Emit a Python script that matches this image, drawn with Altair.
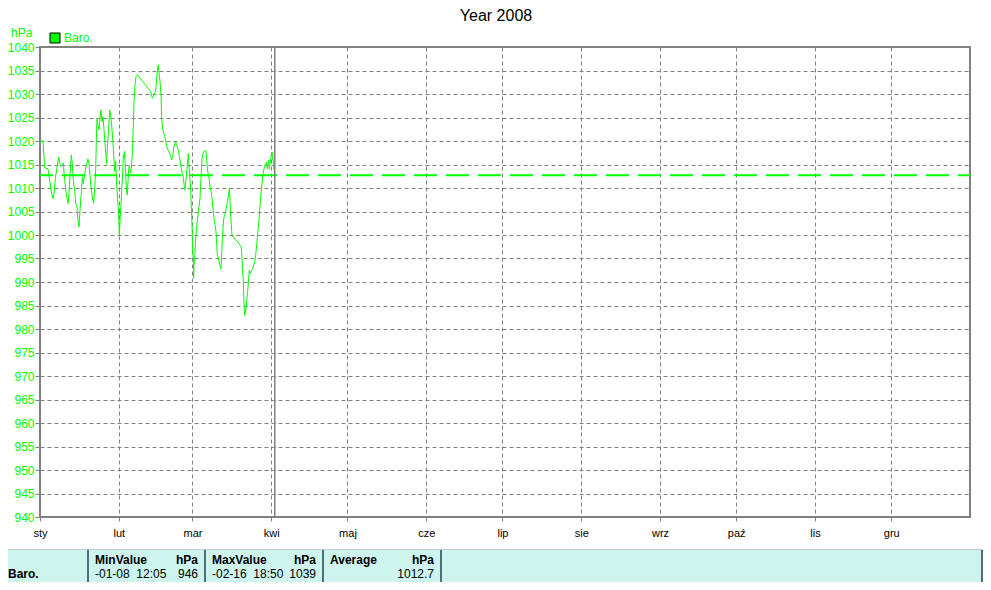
import altair as alt
import pandas as pd

# ---- data (day of year 2008, pressure hPa) ----
days = [0, 1.18, 1.57, 1.84, 3.15, 3.8, 4.46, 5.12, 5.51, 6.03, 6.82, 7.35, 7.74, 8.13, 8.66, 9.18, 9.71, 10.36,
        11.02, 11.41, 11.81, 12.33, 12.72, 13.12, 13.64, 14.04, 14.56, 14.95, 15.35, 15.74, 16.27, 16.66, 17.05,
        17.58, 18.23, 18.89, 19.28, 19.68, 20.07, 20.59, 21.12, 21.51, 21.91, 22.17, 22.43, 22.83,
        23.22, 23.61, 24.01, 24.4, 24.79, 25.19, 25.58, 25.98, 26.24, 26.5, 27.02, 27.42, 27.81, 28.2, 28.6,
        28.99, 29.39, 29.78, 30.17, 30.57, 30.96, 31.22, 31.48, 31.75, 32.01, 32.27, 32.53, 32.8, 33.06, 33.32,
        33.58, 33.84, 34.11, 34.37, 34.63, 34.9, 35.16, 35.42, 35.68, 35.94, 36.21, 36.47, 36.73, 36.99, 37.39,
        37.78, 38.3, 39.35, 40.4, 41.45, 42.5, 43.55, 44.21, 44.6, 45.13, 45.52, 45.92, 46.31, 46.57, 46.83,
        47.23, 47.62, 47.88, 48.28, 48.67, 49.06, 49.46, 49.85, 50.24, 50.64, 51.03, 51.42, 51.82, 52.21, 52.61,
        53.0, 53.39, 53.79, 54.18, 54.57, 54.84, 55.23, 55.62, 56.02, 56.41, 56.8, 57.06, 57.33, 57.59, 57.98,
        58.38, 58.64, 58.9, 59.16, 59.43, 59.69, 59.95, 60.08, 60.34, 60.47, 60.61, 60.87, 61.13, 61.39, 61.79,
        62.18, 62.57, 62.97, 63.23, 63.49, 63.75, 64.15, 64.54, 65.33, 65.59, 65.85, 66.12, 66.51, 66.9, 67.3,
        67.69, 68.08, 68.48, 68.87, 69.26, 69.53, 69.79, 70.18,
        70.44, 70.84, 71.23, 71.5, 71.76, 72.02, 72.28, 72.67, 73.07, 73.46, 73.86, 74.25, 74.51, 74.77, 75.04,
        75.3, 75.56, 76.61, 77.92, 78.58, 79.23, 79.5, 79.76, 80.02, 80.28, 80.54, 80.81, 81.07, 81.33, 81.59,
        81.86, 82.12, 82.38, 82.64, 82.91, 83.69, 84.48, 84.87, 85.27, 85.66, 86.06, 86.45, 86.84, 87.24, 87.63,
        88.02, 88.42, 88.81, 89.2, 89.47, 89.73, 89.99, 90.25, 90.52, 90.78, 91.04, 91.3, 91.57, 91.83, 92.09]

baro = [1020.0, 1020.0, 1016.6, 1014.3, 1014.1, 1011.6, 1009.2, 1007.7, 1008.8, 1012.0, 1014.8, 1016.6, 1015.5,
        1014.6, 1014.8, 1015.3, 1011.6, 1008.8, 1006.7, 1008.8, 1013.0, 1017.0, 1015.2, 1011.6, 1009.5, 1006.7,
        1006.0, 1003.1, 1001.7, 1005.2, 1009.2, 1012.3, 1010.9, 1013.0, 1014.8, 1016.2, 1015.2, 1012.7, 1010.2,
        1008.1, 1006.7, 1009.9, 1013.8, 1020.1, 1024.7, 1023.3,
        1022.4, 1024.9, 1026.6, 1024.1, 1025.2, 1022.4, 1019.5, 1016.7, 1015.1, 1018.5, 1022.7, 1026.6, 1025.2,
        1023.4, 1020.6, 1017.1, 1013.5, 1015.6, 1010.7, 1007.5, 1004.3, 1000.0, 1002.9, 1005.4, 1007.8, 1010.7,
        1013.2, 1017.1, 1016.3, 1017.8, 1014.2, 1011.4, 1009.3, 1008.5, 1011.4, 1013.9, 1014.9, 1013.9, 1013.2,
        1014.2, 1016.3, 1019.2, 1023.4, 1028.4, 1032.0, 1033.7, 1034.1, 1033.4, 1032.7, 1032.0, 1031.2, 1030.5,
        1029.1, 1029.5, 1030.2, 1030.5, 1033.4, 1035.5, 1036.2, 1034.4,
        1032.7, 1029.8, 1024.9, 1022.4, 1021.7, 1021.0, 1020.2, 1018.8, 1018.3, 1017.8, 1017.4, 1016.7, 1016.0,
        1016.3, 1018.5, 1019.5, 1019.9, 1019.2, 1018.5, 1017.8, 1016.7, 1015.6, 1013.9, 1013.2, 1012.1, 1010.3,
        1009.6, 1011.4, 1012.4, 1014.9, 1017.4, 1014.9, 1012.4, 1011.0, 1007.8, 1004.3, 1000.0, 996.5, 995.1,
        990.8, 993.7, 995.1, 997.9, 1000.0, 1002.5, 1004.3, 1006.1, 1007.8, 1010.7, 1013.5, 1016.3, 1017.4,
        1017.8, 1017.9, 1016.3, 1014.2, 1013.2, 1012.1, 1010.3, 1009.3, 1007.8, 1005.7, 1003.6, 1002.2, 1000.7,
        997.9, 995.8, 995.1,
        994.3, 993.5, 992.8, 995.7, 999.2, 1001.3, 1003.5, 1004.2, 1005.2, 1006.3, 1007.4, 1008.8, 1009.9, 1007.7,
        1004.2, 1002.1, 999.9, 999.2, 998.5, 997.9, 997.4, 995.0, 992.1, 990.0, 985.7, 982.9, 983.6, 984.3, 985.7,
        987.2, 988.9, 990.7, 992.5, 991.8, 992.1, 992.8, 994.3, 995.7, 997.8, 1000.3, 1002.4, 1005.2, 1008.1,
        1010.2, 1012.3, 1013.8, 1014.5, 1015.2, 1015.5, 1014.1, 1015.5, 1015.9, 1014.1, 1015.2, 1016.2, 1016.9,
        1017.7, 1016.2, 1015.5, 1013.8]

average = 1012.7
now_day = 92.4

month_days = [0, 31, 60, 91, 121, 152, 182, 213, 244, 274, 305, 335]
month_labels = ["sty", "lut", "mar", "kwi", "maj", "cze", "lip", "sie", "wrz", "paź", "lis", "gru"]
y_ticks = list(range(940, 1041, 5))

title_text = "Year 2008"
unit = "hPa"
series_name = "Baro."
table_headers = ["MinValue", "MaxValue", "Average"]
table_values = [("-01-08\u00a0\u00a012:05", "946"), ("-02-16\u00a0\u00a018:50", "1039"), ("", "1012.7")]

GREEN = "#00ff00"
GRAY = "#808080"
FONT = "Liberation Sans"

df = pd.DataFrame({"day": days, "baro": baro})

lbl_expr = "[" + ",".join("'%s'" % m for m in month_labels) + "][indexof([" + \
    ",".join(str(d) for d in month_days) + "], datum.value)]"

x_scale = alt.Scale(domain=[0, 366], nice=False, zero=False)
y_scale = alt.Scale(domain=[940, 1040], nice=False, zero=False)

x_axis = alt.Axis(values=month_days, labelExpr=lbl_expr, title=None, grid=True,
                  gridDash=[4, 3], gridColor=GRAY, gridWidth=1, domain=False,
                  tickColor=GRAY, tickSize=4, labelColor="black", labelFont=FONT,
                  labelFontSize=11, labelPadding=6, labelAlign="center", labelOverlap=False)
y_axis = alt.Axis(values=y_ticks, format="d", title=None, grid=True, gridDash=[4, 3],
                  gridColor=GRAY, gridWidth=1, domain=False, tickColor=GRAY, tickSize=5,
                  labelColor=GREEN, labelFont=FONT, labelFontSize=12, labelPadding=1,
                  labelOverlap=False, labelFlush=False)

line = alt.Chart(df).mark_line(color=GREEN, strokeWidth=1).encode(
    x=alt.X("day:Q", scale=x_scale, axis=x_axis),
    y=alt.Y("baro:Q", scale=y_scale, axis=y_axis))

avg_rule = alt.Chart(pd.DataFrame({"baro": [average]})).mark_rule(
    color=GREEN, strokeWidth=2, strokeDash=[23, 9], strokeDashOffset=11
).encode(y=alt.Y("baro:Q", scale=y_scale, axis=y_axis))

now_rule = alt.Chart(pd.DataFrame({"day": [now_day]})).mark_rule(
    color=GRAY, strokeWidth=1.5
).encode(x=alt.X("day:Q", scale=x_scale, axis=x_axis))

one = pd.DataFrame({"k": [0]})


def txt(s, x, y, color="black", size=11, weight="normal", align="left"):
    return alt.Chart(pd.DataFrame({"t": [s]})).mark_text(
        font=FONT, fontSize=size, fontWeight=weight, color=color, align=align, baseline="alphabetic"
    ).encode(x=alt.value(x), y=alt.value(y), text="t:N")


def box(x, x2, y, y2, fill, stroke=None, sw=0):
    kw = dict(fill=fill)
    if stroke:
        kw.update(stroke=stroke, strokeWidth=sw)
    return alt.Chart(one).mark_rect(**kw).encode(
        x=alt.value(x), x2=alt.value(x2), y=alt.value(y), y2=alt.value(y2))


def vline(x, y, y2, color, w):
    return alt.Chart(one).mark_rule(color=color, strokeWidth=w).encode(
        x=alt.value(x), y=alt.value(y), y2=alt.value(y2))


layers = [line, avg_rule, now_rule]

# title, unit, legend
layers.append(txt(title_text, 456, -26, size=16, align="center"))
layers.append(txt(unit, -29, -10, color=GREEN, size=12))
layers.append(box(10, 20, -14, -4, GREEN, "black", 1))
layers.append(txt(series_name, 24, -5, color=GREEN, size=12))

# statistics table
layers.append(box(-40, 951, 503, 540, "#cdf5ee"))
layers.append(alt.Chart(one).mark_rule(color="#b8cfcf", strokeWidth=1).encode(
    x=alt.value(-40), x2=alt.value(951), y=alt.value(502.5)))
for sx in [48, 165, 283, 401, 942]:
    layers.append(vline(sx, 503, 540, "#4f6f7d", 2))
layers.append(txt(series_name, -32, 531, size=12, weight="bold"))
col_left = [55, 172, 290]
col_right = [158, 276, 394]
for h, (v1, v2), xl, xr in zip(table_headers, table_values, col_left, col_right):
    layers.append(txt(h, xl, 517, size=12, weight="bold"))
    layers.append(txt(unit, xr, 517, size=12, weight="bold", align="right"))
    if v1:
        layers.append(txt(v1, xl, 531, size=12))
    layers.append(txt(v2, xr, 531, size=12, align="right"))

chart = alt.layer(*layers).properties(
    width=930, height=470,
    autosize=alt.AutoSizeParams(type="none"),
    padding={"left": 32, "top": 39, "right": 13, "bottom": 65},
    background="white",
).configure_view(stroke=GRAY, strokeWidth=2)

chart.save("out.html", embed_options={"renderer": "svg", "actions": False})
